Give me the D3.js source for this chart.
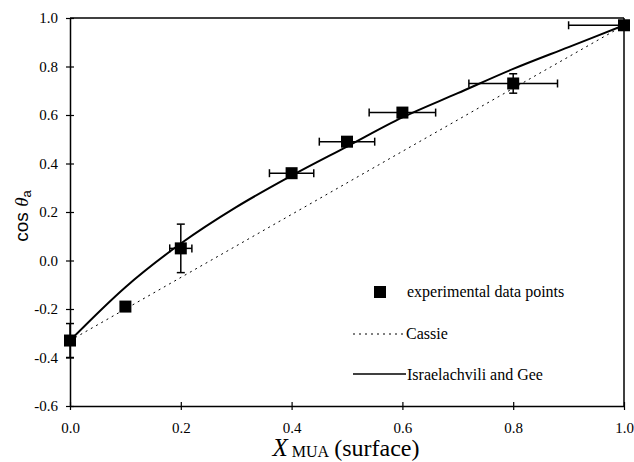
<!DOCTYPE html>
<html>
<head>
<meta charset="utf-8">
<script src="https://cdn.jsdelivr.net/npm/d3@7"></script>
<style>
	body { margin: 0; background: #fff; }
	text { font-family: 'Liberation Serif', 'Times New Roman', serif; fill: #000; }
</style>
</head>
<body>
<div id="chart"></div>
<script>
// experimental points: x, cos theta, x error, y error
const pointX = [0.0, 0.1, 0.2, 0.4, 0.5, 0.6, 0.8, 1.0];
const pointY = [-0.33, -0.19, 0.05, 0.36, 0.49, 0.61, 0.73, 0.97];
const xErrLo = [0, 0, 0.02, 0.04, 0.05, 0.06, 0.08, 0.1];
const xErrHi = [0, 0, 0.02, 0.04, 0.05, 0.06, 0.08, 0];
const yErr = [0.07, 0, 0.1, 0, 0, 0, 0.04, 0];

// Cassie (straight line between end points)
const cassieX = [0, 1];
const cassieY = [-0.33, 0.97];

// Israelachvili and Gee curve
const igX = [0, 0.1, 0.2, 0.3, 0.4, 0.5, 0.6, 0.7, 0.8, 0.9, 1.0];
const igY = [-0.33, -0.11, 0.07, 0.22, 0.35, 0.47, 0.59, 0.69, 0.79, 0.88, 0.97];

const xTicks = [0, 0.2, 0.4, 0.6, 0.8, 1.0];
const yTicks = [-0.6, -0.4, -0.2, 0, 0.2, 0.4, 0.6, 0.8, 1.0];

const width = 634, height = 462;
const margin = { top: 18, right: 10, bottom: 56, left: 70 };

const svg = d3.select('#chart').append('svg')
	.attr('width', width).attr('height', height);

const x = d3.scaleLinear().domain([0, 1]).range([margin.left, width - margin.right]);
const y = d3.scaleLinear().domain([-0.6, 1.0]).range([height - margin.bottom, margin.top]);

// frame top and right
svg.append('line').attr('x1', x(0)).attr('x2', x(1)).attr('y1', y(1)).attr('y2', y(1))
	.attr('stroke', '#000').attr('stroke-width', 1.5);
svg.append('line').attr('x1', x(1)).attr('x2', x(1)).attr('y1', y(1)).attr('y2', y(-0.6))
	.attr('stroke', '#000').attr('stroke-width', 1.5);

const xAxis = svg.append('g').attr('transform', `translate(0, ${y(-0.6)})`)
	.call(d3.axisBottom(x).tickValues(xTicks).tickFormat(d3.format('.1f')).tickSize(4).tickSizeOuter(0));
const yAxis = svg.append('g').attr('transform', `translate(${x(0)}, 0)`)
	.call(d3.axisLeft(y).tickValues(yTicks).tickFormat(d3.format('.1f')).tickSize(4).tickSizeOuter(0));

[xAxis, yAxis].forEach((g) => {
	g.select('.domain').attr('stroke-width', 1.5);
	g.selectAll('.tick line').attr('stroke-width', 1.2);
	g.selectAll('.tick text').style('font-family', "'Liberation Serif', serif").style('font-size', '15px');
});
// ticks cross the axis
xAxis.selectAll('.tick line').attr('y1', -4);
xAxis.selectAll('.tick text').attr('y', 16);
yAxis.selectAll('.tick line').attr('x1', 4);
yAxis.selectAll('.tick text').attr('x', -12).text((d) => d3.format('.1f')(d).replace('−', '-'));

// Cassie dotted line
svg.append('path')
	.datum(cassieX.map((d, i) => [d, cassieY[i]]))
	.attr('fill', 'none').attr('stroke', '#000').attr('stroke-width', 1)
	.attr('stroke-dasharray', '2,4')
	.attr('d', d3.line().x((d) => x(d[0])).y((d) => y(d[1])));

// Israelachvili and Gee
svg.append('path')
	.datum(igX.map((d, i) => [d, igY[i]]))
	.attr('fill', 'none').attr('stroke', '#000').attr('stroke-width', 2)
	.attr('d', d3.line().curve(d3.curveMonotoneX).x((d) => x(d[0])).y((d) => y(d[1])));

// error bars
const cap = 4;
const pts = pointX.map((d, i) => ({ x: d, y: pointY[i], xl: xErrLo[i], xh: xErrHi[i], ye: yErr[i] }));
const eb = svg.append('g').attr('stroke', '#000').attr('stroke-width', 1.5);
pts.forEach((p) => {
	if (p.xl || p.xh) {
		eb.append('line').attr('x1', x(p.x - p.xl)).attr('x2', x(p.x + p.xh)).attr('y1', y(p.y)).attr('y2', y(p.y));
		if (p.xl) eb.append('line').attr('x1', x(p.x - p.xl)).attr('x2', x(p.x - p.xl)).attr('y1', y(p.y) - cap).attr('y2', y(p.y) + cap);
		if (p.xh) eb.append('line').attr('x1', x(p.x + p.xh)).attr('x2', x(p.x + p.xh)).attr('y1', y(p.y) - cap).attr('y2', y(p.y) + cap);
	}
	if (p.ye) {
		eb.append('line').attr('x1', x(p.x)).attr('x2', x(p.x)).attr('y1', y(p.y - p.ye)).attr('y2', y(p.y + p.ye));
		[p.y - p.ye, p.y + p.ye].forEach((v) => {
			eb.append('line').attr('x1', x(p.x) - cap).attr('x2', x(p.x) + cap).attr('y1', y(v)).attr('y2', y(v));
		});
	}
});

// markers
const ms = 12;
svg.selectAll('.pt').data(pts).enter().append('rect')
	.attr('x', (d) => x(d.x) - ms / 2).attr('y', (d) => y(d.y) - ms / 2)
	.attr('width', ms).attr('height', ms).attr('fill', '#000');

// legend
const lg = svg.append('g').style('font-size', '16px');
lg.append('rect').attr('x', 374).attr('y', 286).attr('width', 12).attr('height', 12).attr('fill', '#000');
lg.append('text').attr('x', 407).attr('y', 297).text('experimental data points');
lg.append('line').attr('x1', 353).attr('x2', 403).attr('y1', 334).attr('y2', 334)
	.attr('stroke', '#000').attr('stroke-width', 1).attr('stroke-dasharray', '2,4');
lg.append('text').attr('x', 406).attr('y', 339).text('Cassie');
lg.append('line').attr('x1', 353).attr('x2', 406).attr('y1', 374).attr('y2', 374)
	.attr('stroke', '#000').attr('stroke-width', 1.5);
lg.append('text').attr('x', 407).attr('y', 380).text('Israelachvili and Gee');

// axis titles
const xt = svg.append('text').attr('x', 346).attr('y', 456).attr('text-anchor', 'middle').style('font-size', '24px');
xt.append('tspan').style('font-style', 'italic').style('font-size', '25px').text('X');
xt.append('tspan').attr('dx', 4).attr('dy', 1).style('font-size', '16px').text('MUA');
xt.append('tspan').attr('dx', 5).attr('dy', -1).text('(surface)');

const yt = svg.append('text').attr('transform', `translate(28, 216) rotate(-90)`).attr('text-anchor', 'middle').style('font-size', '19px');
yt.append('tspan').style('font-family', "'Liberation Sans', Arial, sans-serif").text('cos ');
yt.append('tspan').style('font-style', 'italic').text('θ');
yt.append('tspan').attr('dy', 3).style('font-family', "'Liberation Sans', Arial, sans-serif").style('font-size', '13px').text('a');
</script>
</body>
</html>
